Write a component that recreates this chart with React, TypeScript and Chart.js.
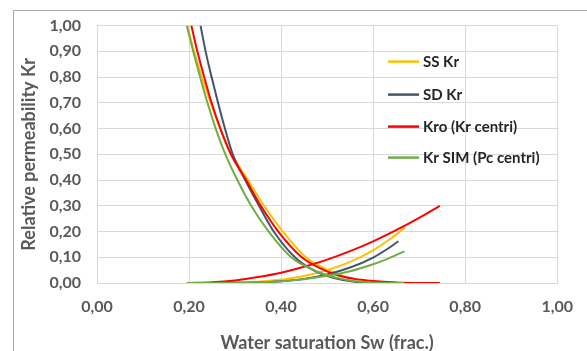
import React, { useEffect, useRef } from "react";
import { Chart, registerables } from "chart.js";

Chart.register(...registerables);

// ---- Data (Sw, Kr) ----
const ssKroSw = [0.196, 0.211, 0.228, 0.247, 0.268, 0.293, 0.328, 0.363, 0.404, 0.454, 0.503, 0.548, 0.593, 0.667];
const ssKroKr = [1.0, 0.9, 0.8, 0.7, 0.6, 0.5, 0.4, 0.3, 0.2, 0.1, 0.05, 0.02, 0.005, 0];
const ssKrwSw = [0.195, 0.25, 0.3, 0.35, 0.4, 0.45, 0.5, 0.55, 0.6, 0.63, 0.65, 0.669];
const ssKrwKr = [0, 0.0003, 0.0015, 0.005, 0.013, 0.027, 0.05, 0.082, 0.127, 0.162, 0.188, 0.216];

const sdKroSw = [0.225, 0.236, 0.249, 0.263, 0.278, 0.295, 0.322, 0.352, 0.384, 0.43, 0.47, 0.513, 0.56, 0.66];
const sdKroKr = [1.0, 0.9, 0.8, 0.7, 0.6, 0.5, 0.4, 0.3, 0.2, 0.1, 0.05, 0.02, 0.005, 0];
const sdKrwSw = [0.225, 0.3, 0.35, 0.4, 0.45, 0.5, 0.55, 0.6, 0.63, 0.655];
const sdKrwKr = [0, 0.0005, 0.002, 0.0065, 0.016, 0.033, 0.06, 0.099, 0.131, 0.162];

const centriKroSw = [0.205, 0.218, 0.233, 0.249, 0.268, 0.291, 0.324, 0.356, 0.394, 0.445, 0.48, 0.523, 0.56, 0.594, 0.65, 0.7, 0.745];
const centriKroKr = [1.0, 0.9, 0.8, 0.7, 0.6, 0.5, 0.4, 0.3, 0.2, 0.1, 0.062, 0.03, 0.016, 0.009, 0.002, 0.0003, 0];
const centriKrwSw = [0.2, 0.25, 0.3, 0.35, 0.4, 0.45, 0.5, 0.55, 0.6, 0.65, 0.7, 0.745];
const centriKrwKr = [0, 0.0025, 0.01, 0.023, 0.04, 0.063, 0.091, 0.124, 0.162, 0.205, 0.253, 0.3];

const simKroSw = [0.195, 0.209, 0.224, 0.24, 0.258, 0.279, 0.305, 0.335, 0.373, 0.422, 0.45, 0.5, 0.55, 0.6, 0.667];
const simKroKr = [1.0, 0.9, 0.8, 0.7, 0.6, 0.5, 0.4, 0.3, 0.2, 0.1, 0.068, 0.03, 0.01, 0.002, 0];
const simKrwSw = [0.195, 0.3, 0.35, 0.4, 0.45, 0.5, 0.55, 0.6, 0.63, 0.668];
const simKrwKr = [0, 0.0007, 0.003, 0.007, 0.015, 0.028, 0.046, 0.073, 0.093, 0.123];

const seriesNames = ["SS Kr", "SD Kr", "Kro (Kr centri)", "Kr SIM (Pc centri)"];
const seriesColors = ["#FFC000", "#44546A", "#FF0000", "#70AD47"];

const xTickLabels = ["0,00", "0,20", "0,40", "0,60", "0,80", "1,00"];
const yTickLabels = ["0,00", "0,10", "0,20", "0,30", "0,40", "0,50", "0,60", "0,70", "0,80", "0,90", "1,00"];

const xTitle = "Water saturation Sw (frac.)";
const yTitle = "Relative permeability Kr";

const toPts = (xs: number[], ys: number[]) => xs.map((x, i) => ({ x, y: ys[i] }));

const FONT = "Lato";
const GREY = "#595959";
const GRID = "#D9D9D9";

const frame = {
  id: "frame",
  beforeDraw(chart: any) {
    const ctx = chart.ctx;
    ctx.save();
    ctx.strokeStyle = "#A6A6A6";
    ctx.lineWidth = 1;
    ctx.beginPath();
    ctx.moveTo(13.5, chart.height);
    ctx.lineTo(13.5, 10.5);
    ctx.lineTo(chart.width, 10.5);
    ctx.stroke();
    ctx.restore();
  },
};

const insideLegend = {
  id: "insideLegend",
  afterDraw(chart: any) {
    const ctx = chart.ctx;
    const a = chart.chartArea;
    const offs = [36, 69, 101, 132];
    ctx.save();
    ctx.font = `bold 15px ${FONT}`;
    ctx.textBaseline = "middle";
    ctx.textAlign = "left";
    seriesNames.forEach((name, i) => {
      const y = a.top + offs[i];
      ctx.strokeStyle = seriesColors[i];
      ctx.lineWidth = 2.5;
      ctx.beginPath();
      ctx.moveTo(a.left + 291, y);
      ctx.lineTo(a.left + 322, y);
      ctx.stroke();
      ctx.fillStyle = "#262626";
      ctx.fillText(name, a.left + 326, y + 1);
    });
    ctx.restore();
  },
};

export default function App() {
  const ref = useRef<HTMLCanvasElement | null>(null);

  useEffect(() => {
    if (!ref.current) return;
    const mk = (label: string, xs: number[], ys: number[], color: string, order: number) => ({
      label,
      data: toPts(xs, ys),
      borderColor: color,
      backgroundColor: color,
      borderWidth: 2,
      pointRadius: 0,
      showLine: true,
      fill: false,
      cubicInterpolationMode: "monotone" as const,
      order,
    });
    const chart = new Chart(ref.current, {
      type: "scatter",
      data: {
        datasets: [
          mk(seriesNames[0], ssKroSw, ssKroKr, seriesColors[0], 3),
          mk(seriesNames[0], ssKrwSw, ssKrwKr, seriesColors[0], 3),
          mk(seriesNames[1], sdKroSw, sdKroKr, seriesColors[1], 2),
          mk(seriesNames[1], sdKrwSw, sdKrwKr, seriesColors[1], 2),
          mk(seriesNames[2], centriKroSw, centriKroKr, seriesColors[2], 1),
          mk(seriesNames[2], centriKrwSw, centriKrwKr, seriesColors[2], 1),
          mk(seriesNames[3], simKroSw, simKroKr, seriesColors[3], 0),
          mk(seriesNames[3], simKrwSw, simKrwKr, seriesColors[3], 0),
        ],
      },
      options: {
        animation: false,
        responsive: false,
        devicePixelRatio: 1,
        layout: { padding: { top: 22, right: 25, left: 0, bottom: 0 } },
        plugins: { legend: { display: false }, tooltip: { enabled: false } },
        scales: {
          x: {
            type: "linear",
            min: 0,
            max: 1,
            ticks: {
              stepSize: 0.2,
              padding: 14,
              color: GREY,
              font: { family: FONT, size: 16, weight: "bold" },
              callback: (_v: any, i: number) => xTickLabels[i],
            },
            grid: { color: GRID, drawTicks: false },
            border: { color: GRID },
            title: {
              display: true,
              text: xTitle,
              color: GREY,
              font: { family: FONT, size: 18, weight: "bold" },
              padding: { top: 0, bottom: -3 },
            },
            afterFit: (s: any) => {
              s.height = 68;
            },
          },
          y: {
            type: "linear",
            min: 0,
            max: 1,
            ticks: {
              stepSize: 0.1,
              padding: 16,
              color: GREY,
              font: { family: FONT, size: 16, weight: "bold" },
              callback: (_v: any, i: number) => yTickLabels[i],
            },
            grid: { color: GRID, drawTicks: false },
            border: { color: GRID },
            title: {
              display: true,
              text: yTitle,
              color: GREY,
              font: { family: FONT, size: 18, weight: "bold" },
              padding: { top: 18, bottom: 0 },
            },
            afterFit: (s: any) => {
              s.width = 97;
            },
          },
        },
      },
      plugins: [frame, insideLegend],
    } as any);
    return () => chart.destroy();
  }, []);

  return (
    <div style={{ position: "fixed", left: 0, top: 0, width: 587, height: 351, background: "#fff" }}>
      <canvas ref={ref} width={587} height={351} style={{ width: 587, height: 351, display: "block" }} />
    </div>
  );
}
